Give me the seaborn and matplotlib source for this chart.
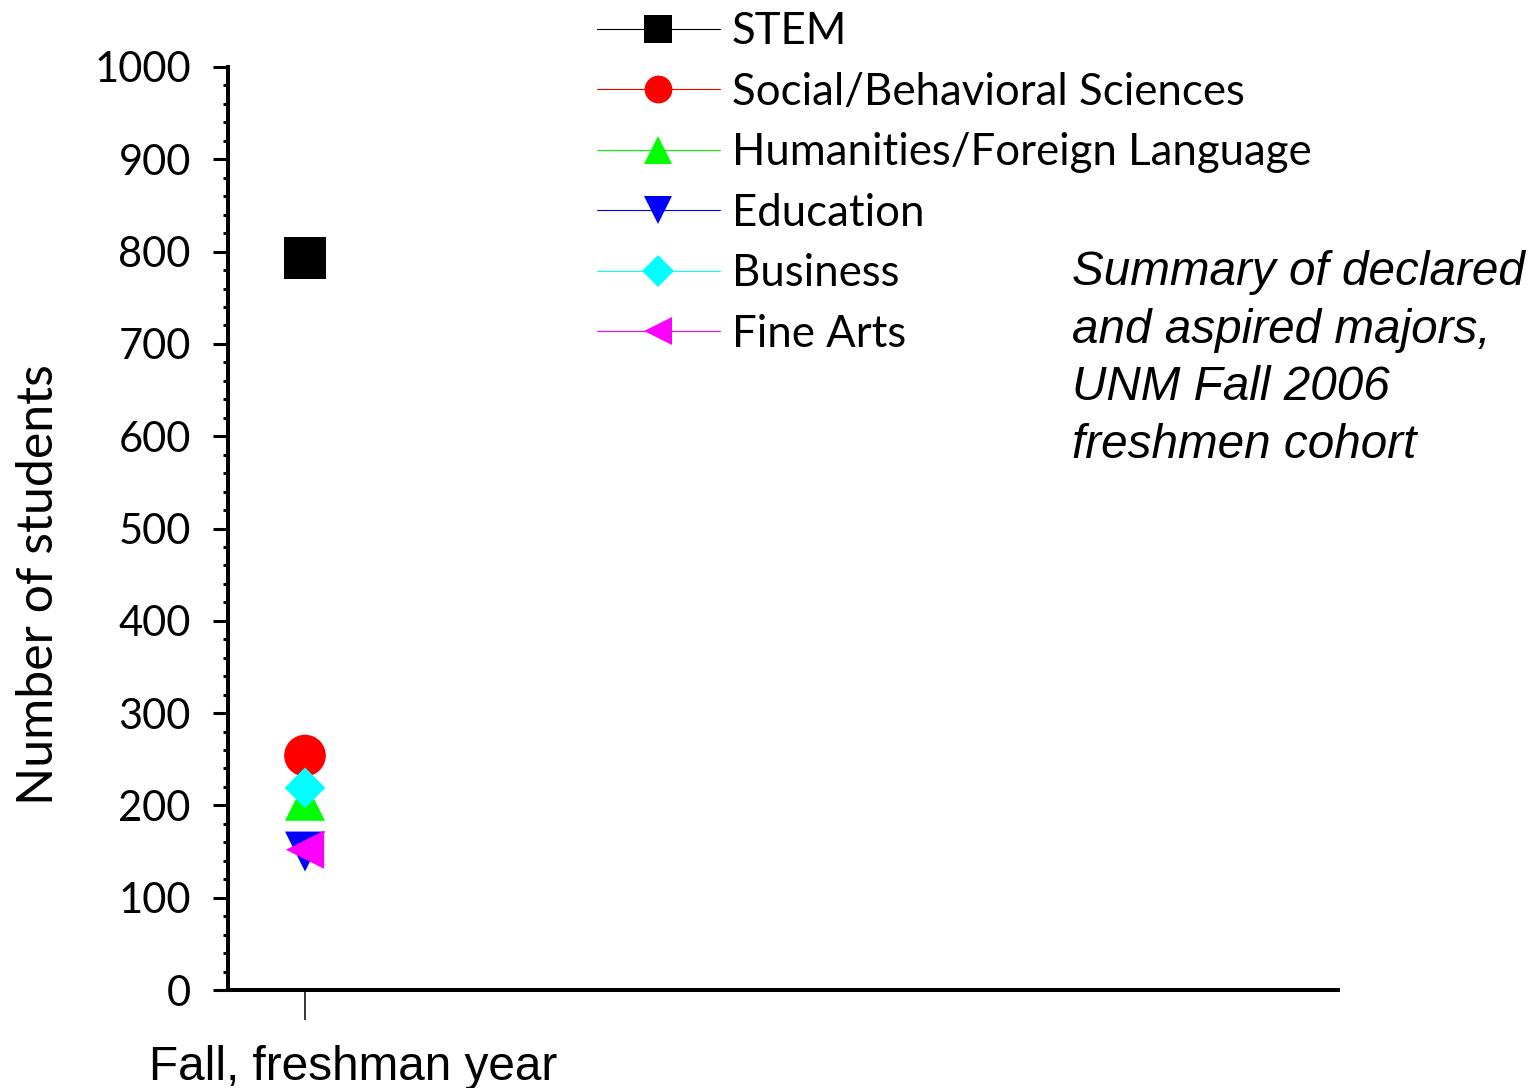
import matplotlib
matplotlib.use("Agg")
import matplotlib.pyplot as plt
import matplotlib.transforms as mtransforms
from matplotlib.lines import Line2D
from matplotlib.ticker import MultipleLocator
import seaborn as sns
import pandas as pd

# ---- data ----
period = ["Fall, freshman year"]
majors = ["STEM", "Social/Behavioral Sciences", "Humanities/Foreign Language",
          "Education", "Business", "Fine Arts"]
students = [793, 254, 205, 150, 219, 152]
colors = ["#000000", "#ff0000", "#00ff00", "#0000ff", "#00ffff", "#ff00ff"]
marker_shapes = ["s", "o", "^", "v", "D", "<"]
marker_area = [900, 900, 830, 830, 430, 760]
yticks = [0, 100, 200, 300, 400, 500, 600, 700, 800, 900, 1000]
note = "Summary of declared\nand aspired majors,\nUNM Fall 2006\nfreshmen cohort"

df = pd.DataFrame({
    "period": period * len(majors),
    "major": majors,
    "students": students,
})

sns.set_theme(style="white")
plt.rcParams["font.family"] = ["Lato", "DejaVu Sans"]
plt.rcParams["text.color"] = "black"
plt.rcParams["axes.labelcolor"] = "black"
plt.rcParams["xtick.color"] = "black"
plt.rcParams["ytick.color"] = "black"

fig = plt.figure(figsize=(15.4, 10.88), dpi=100)
ax = fig.add_axes([228 / 1540, 1 - 990 / 1088, 1110 / 1540, 923 / 1088])

palette = dict(zip(majors, colors))
markers = dict(zip(majors, marker_shapes))
sizes = dict(zip(majors, marker_area))

sns.scatterplot(data=df, x="period", y="students", hue="major", style="major",
                size="major", sizes=sizes, palette=palette, markers=markers,
                linewidth=0, legend=False, ax=ax, zorder=3)

ax.set_xlim(-0.5, 6.708)
ax.set_ylim(0, 1000)
ax.set_yticks(yticks)
ax.set_yticklabels([str(t) for t in yticks])
ax.yaxis.set_minor_locator(MultipleLocator(20))
ax.set_xlabel("")
ax.set_ylabel("Number of students", fontsize=36, color="black",
              family=["Lato", "DejaVu Sans"])
ax.yaxis.set_label_coords(-0.150, 0.439)

for s in ["top", "right"]:
    ax.spines[s].set_visible(False)
for s in ["left", "bottom"]:
    ax.spines[s].set_linewidth(2.9)
    ax.spines[s].set_color("black")

ax.tick_params(axis="y", which="major", direction="out", length=10.8, width=2.2,
               pad=16, labelsize=30, left=True, colors="black")
ax.tick_params(axis="y", which="minor", direction="out", length=3.6, width=2.2,
               left=True, color="black")
ax.tick_params(axis="x", which="major", direction="out", length=21.6, width=1.1,
               pad=18, labelsize=34.4, bottom=True, colors="black")
for lab in ax.get_xticklabels():
    lab.set_fontfamily(["Liberation Sans", "DejaVu Sans"])
    lab.set_transform(lab.get_transform() +
                      mtransforms.ScaledTranslation(0.48, 0, fig.dpi_scale_trans))

handles = [Line2D([0], [0], color=c, lw=0.8, marker=m, markersize=20,
                  markeredgewidth=0, markerfacecolor=c)
           for c, m in zip(colors, marker_shapes)]
handles[4].set_markersize(16)
leg = fig.legend(handles, majors, loc="upper left",
                 bbox_to_anchor=(597 / 1540, 1 - 11 / 1088), frameon=False,
                 fontsize=31.5, handlelength=2.8, handletextpad=0.28,
                 labelspacing=0.447, borderpad=0, borderaxespad=0)
for t in leg.get_texts():
    t.set_color("black")

fig.text(1072 / 1540, 1 - 250 / 1088, note, ha="left", va="top",
         fontsize=34.3, style="italic", linespacing=1.36, color="black",
         family=["Liberation Sans", "DejaVu Sans"])

fig.savefig("out.png", dpi=100, facecolor="white")
